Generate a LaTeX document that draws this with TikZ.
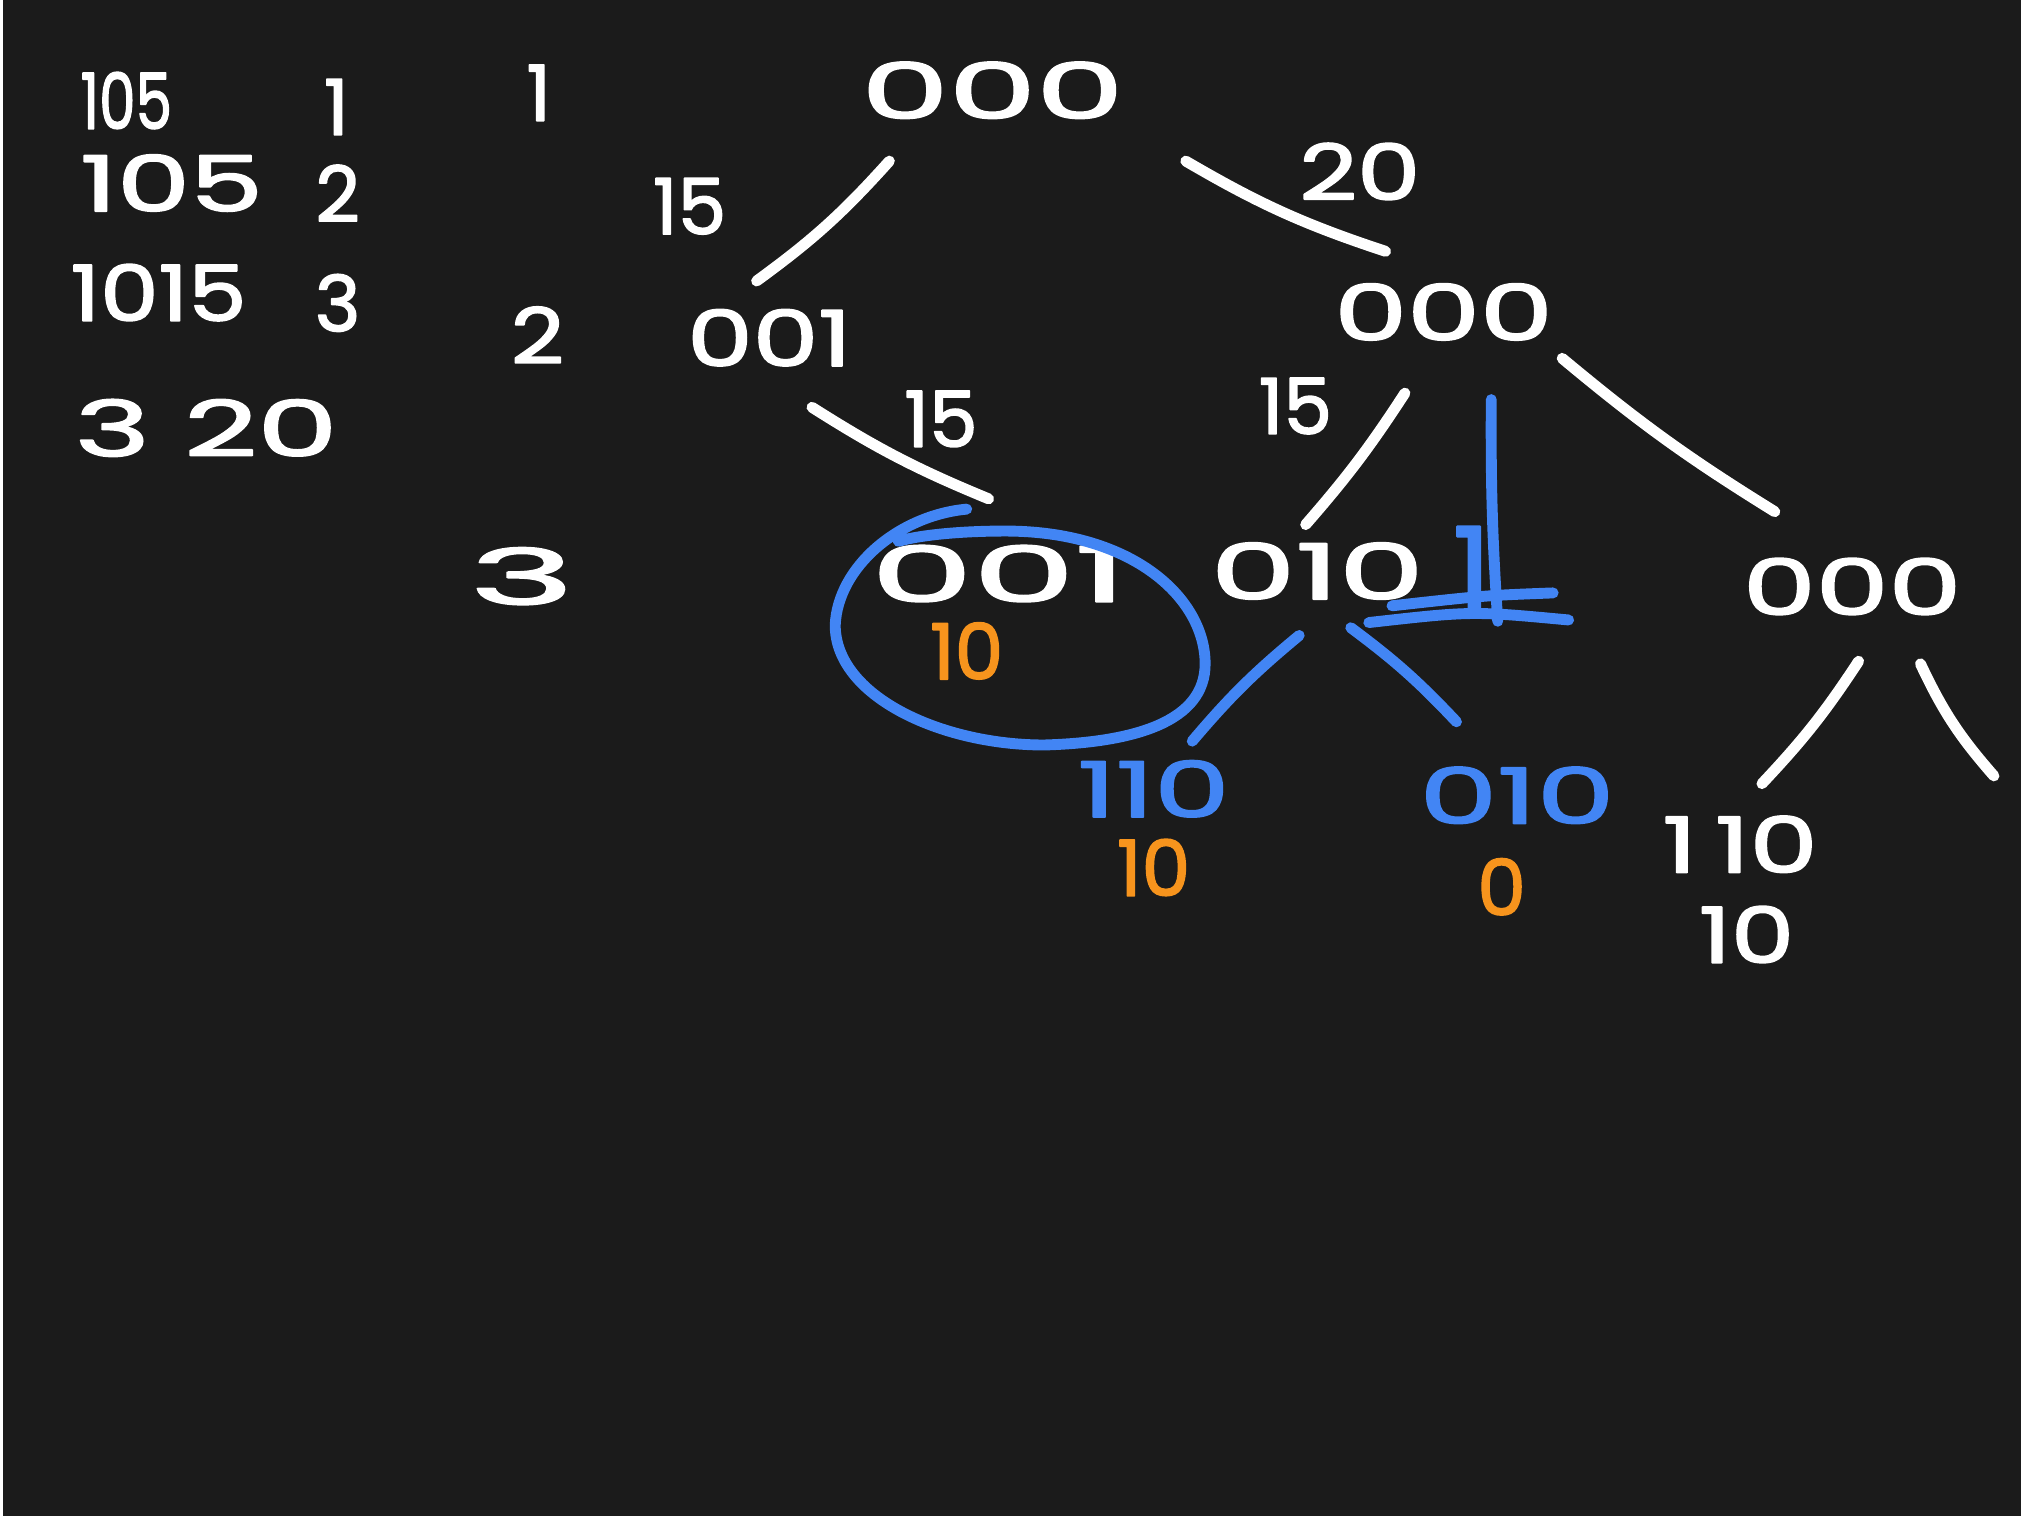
\documentclass[tikz,border=0pt]{standalone}
\usepackage{fontspec}
\newfontfamily\handfont[FakeBold=2]{Poppins}
\usetikzlibrary{calc, positioning}
\definecolor{board}{HTML}{1B1B1B}
\definecolor{chalk}{HTML}{FFFFFF}
\definecolor{pblue}{HTML}{4285F4}
\definecolor{porange}{HTML}{F7941D}
\tikzset{el/.style={line cap=round, line join=round, line width=3.1pt},
  dig/.style={text=chalk, inner sep=0pt, font=\handfont\fontsize{22}{22}\selectfont},
  bdig/.style={dig, text=pblue}, odig/.style={dig, text=porange}}
\newcommand\hw[2]{\scalebox{#1}[1]{#2}}

\begin{document}
\begin{tikzpicture}[el, x=0.1289mm, y=-0.1289mm]
  \fill[board] (0,0) rectangle (1568,1176);
  \fill[chalk] (0,0) rectangle (2,1176);
  \node[dig] (r1a) at (98,78) {\hw{0.75}{105}};
  \node[dig] (r1b) at (261,83) {1};
  \node[dig] (r2a) at (133,142) {\hw{1.5}{105}};
  \node[dig] (r2b) at (262,150) {2};
  \node[dig] (r3a) at (123,227) {\hw{1.2}{1015}};
  \node[dig] (r3b) at (262,235) {3};
  \node[dig] (r4) at (160,332) {\hw{1.65}{3 20}};
  \node[dig] (k1) at (418,72) {1};
  \node[dig] (k2) at (417,260) {\hw{1.2}{2}};
  \node[dig] (k3) at (405,447) {\hw{2.3}{3}};
  \node[dig] (root) at (770,70) {\hw{1.8}{000}};
  \node[dig] (a) at (597,262) {\hw{1.35}{001}};
  \node[dig] (b) at (1120,242) {\hw{1.5}{000}};
  \node[dig] (aa) at (775,445) {\hw{2.1}{001}};
  \node[odig] (aaw) at (750,505) {10};
  \node[dig] (ba) at (1022,443) {\hw{1.75}{010}};
  \node[bdig, font=\handfont\fontsize{34}{34}\selectfont] (bx) at (1142,442) {1};
  \node[dig] (bb) at (1437,455) {\hw{1.5}{000}};
  \node[bdig] (baa) at (895,612) {\hw{1.55}{110}};
  \node[odig] (baaw) at (895,673) {10};
  \node[bdig] (bab) at (1177,617) {\hw{1.6}{010}};
  \node[odig] (babw) at (1165,688) {0};
  \node[dig] (bba) at (1350,655) {\hw{1.4}{1\,10}};
  \node[dig] (bbaw) at (1355,725) {\hw{1.3}{10}};
  \node[dig] (w1) at (535,160) {15};
  \node[dig] (w2) at (1055,133) {\hw{1.3}{20}};
  \node[dig] (w3) at (730,325) {15};
  \node[dig] (w4) at (1005,315) {15};
  \coordinate (bbr) at (1547,602);
  \draw[chalk] ([shift={(-80,55)}]root.center) to[bend left=6] ([shift={(-10,-44)}]a.center);
  \draw[chalk] ([shift={(150,55)}]root.center) to[bend right=6] ([shift={(-45,-47)}]b.center);
  \draw[chalk] ([shift={(33,54)}]a.center) to[bend right=5] ([shift={(-8,-58)}]aa.center);
  \draw[chalk] ([shift={(-30,63)}]b.center) to[bend left=4] ([shift={(-9,-36)}]ba.center);
  \draw[chalk] ([shift={(92,36)}]b.center) to[bend right=4] ([shift={(-60,-58)}]bb.center);
  \draw[chalk] ([shift={(5,58)}]bb.center) to[bend left=5] ([shift={(17,-47)}]bba.center);
  \draw[chalk] ([shift={(53,60)}]bb.center) to[bend right=8] (bbr);
  \draw[pblue] ([shift={(37,68)}]b.center) to[bend right=2] ([shift={(20,40)}]bx.center);
  \draw[pblue] ([shift={(-14,50)}]ba.center) to[bend right=5] ([shift={(30,-37)}]baa.center);
  \draw[pblue] ([shift={(26,44)}]ba.center) to[bend left=5] ([shift={(-47,-57)}]bab.center);
  \draw[pblue] ([shift={(-80,41)}]bx.center) .. controls ([shift={(0,32)}]bx.center) .. ([shift={(75,39)}]bx.center);
  \draw[pblue] ([shift={(-62,28)}]bx.center) .. controls ([shift={(10,20)}]bx.center) .. ([shift={(63,18)}]bx.center);
  \draw[pblue] (750,395) .. controls (697,400) and (650,440) .. (648,485) .. controls (648,540) and (730,578) .. (810,578) .. controls (880,576) and (935,560) .. (935,515) .. controls (935,465) and (880,412) .. (780,412) .. controls (740,412) and (710,416) .. (697,420);
\end{tikzpicture}
\end{document}
